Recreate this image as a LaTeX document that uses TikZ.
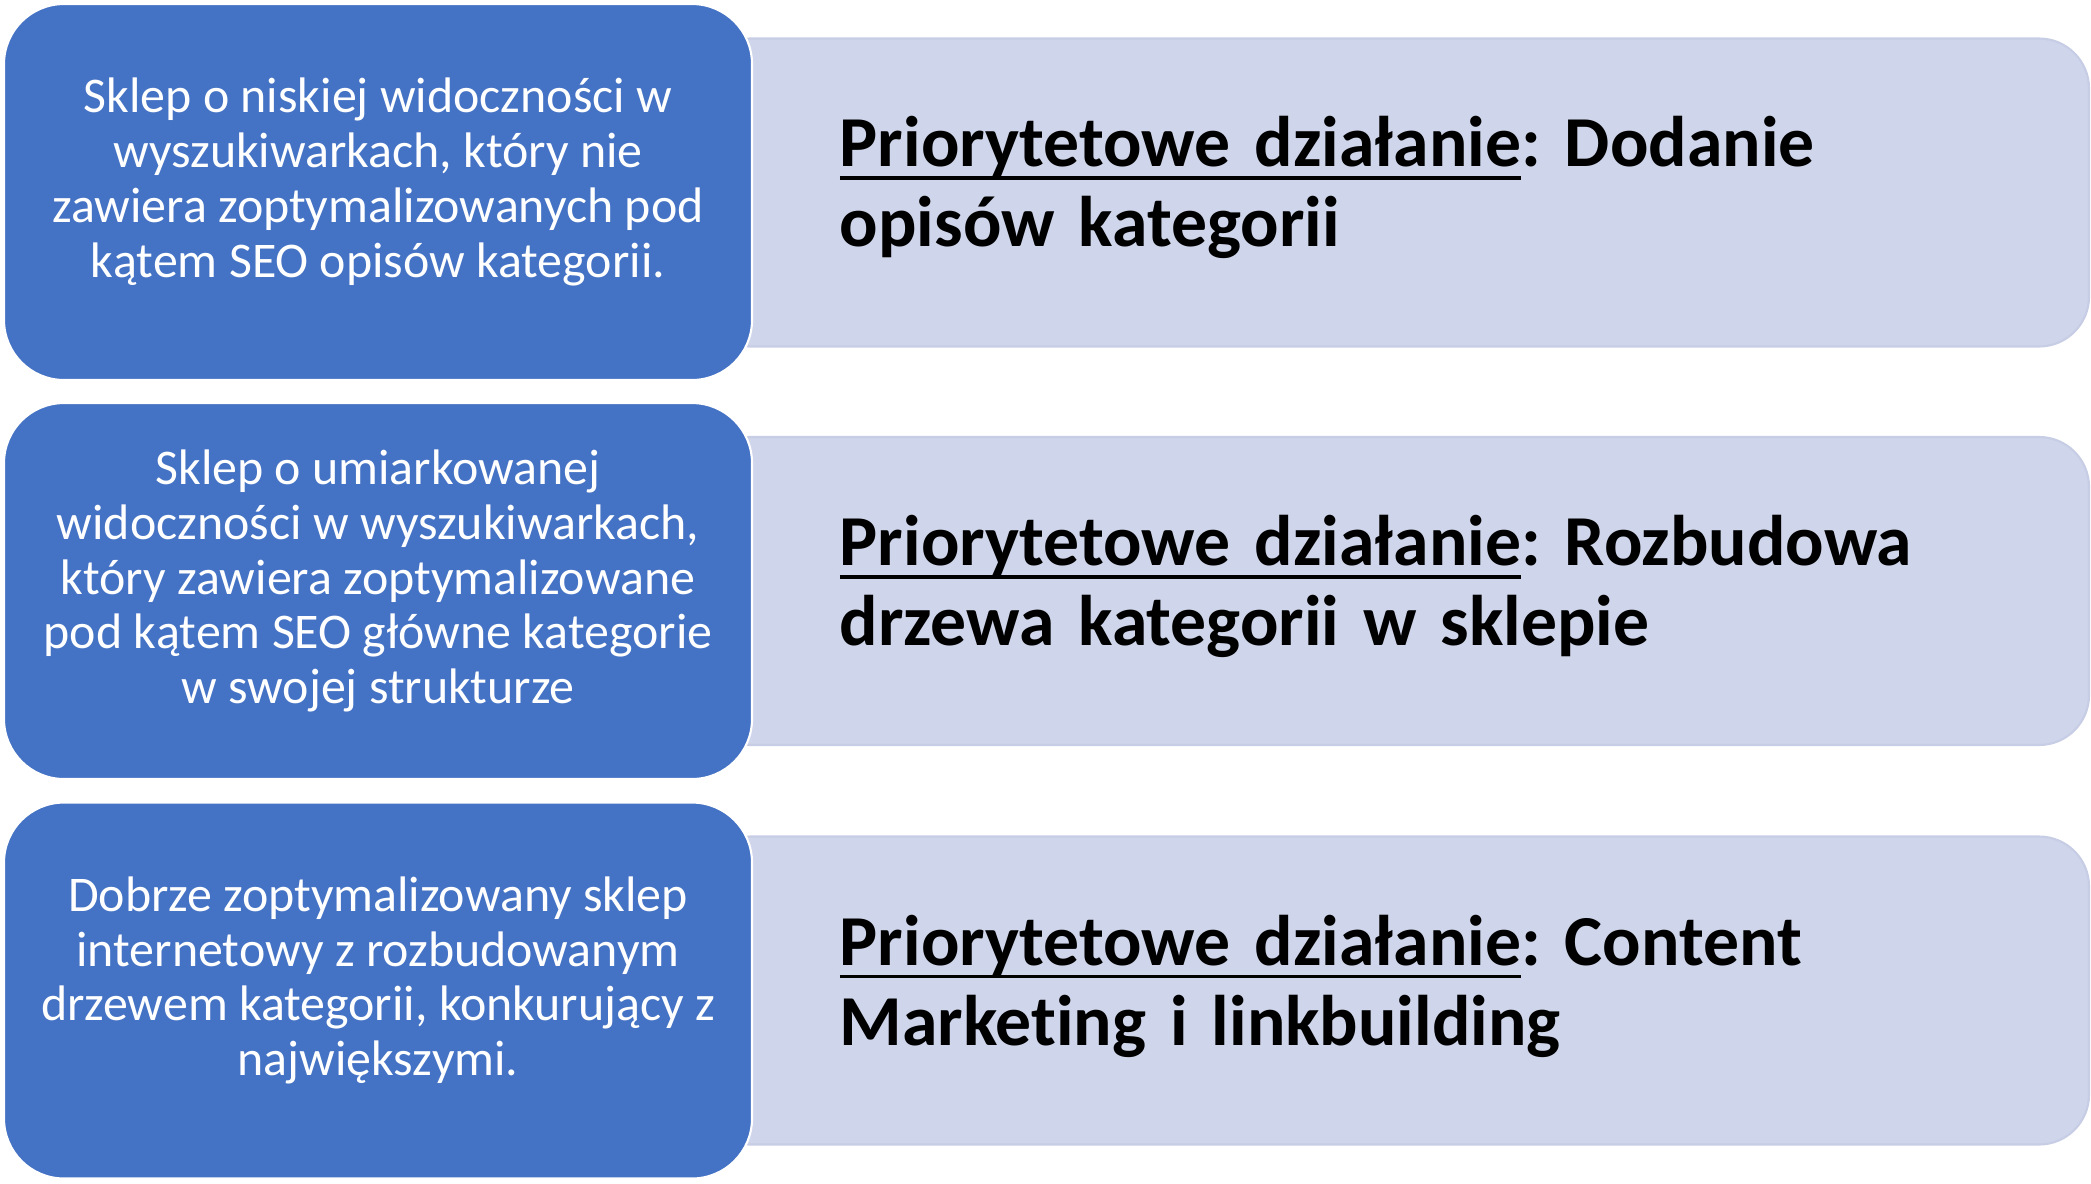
\documentclass[tikz,border=0pt]{standalone}
\usepackage{fontspec}
\setmainfont{Carlito}[Ligatures=NoCommon]
\usepackage{tikz}
\usetikzlibrary{positioning}
\frenchspacing

\definecolor{niebieski}{HTML}{4472C4}
\definecolor{jasny}{HTML}{CFD5EA}
\definecolor{jasnyobrys}{HTML}{C6CDE5}

% podkreslenie przechodzace przez spacje
\newcommand{\podkreslone}[1]{\setbox0\hbox{#1}\rlap{\rule[-3.8pt]{\wd0}{1.1pt}}\box0}
\newcommand{\priorytet}{\podkreslone{Priorytetowe działanie}:}

\tikzset{
	stan/.style={draw=white, line width=0.6pt, fill=niebieski, rounded corners=0.6cm,
		minimum width=7.48cm, minimum height=3.76cm},
	dzialanie/.style={draw=jasnyobrys, line width=0.6pt, fill=jasny, rounded corners=0.5cm,
		minimum width=13.89cm, minimum height=3.08cm},
	opisstanu/.style={text=white, align=center, inner sep=0pt,
		font=\fontsize{14.2}{15.6}\selectfont},
	opisdzialania/.style={text=black, align=left, inner sep=0pt, text width=11.5cm,
		font=\fontsize{20.4}{22.8}\selectfont\bfseries}
}

\begin{document}
\begin{tikzpicture}
	\useasboundingbox (0,0) rectangle (20.91,-11.83);
	% jasne pola z dzialaniami
	\node[dzialanie] (d1) at (13.945,-1.925) {};
	\node[dzialanie] (d2) at (13.945,-5.91) {};
	\node[dzialanie] (d3) at (13.945,-9.905) {};
	% niebieskie pola ze stanem sklepu
	\node[stan] (s1) at (3.78,-1.92) {};
	\node[stan] (s2) at (3.78,-5.91) {};
	\node[stan] (s3) at (3.78,-9.905) {};
	\node[opisstanu] (t1) at ([yshift=0.10cm]s1.center) {Sklep o niskiej widoczności w\\wyszukiwarkach, który nie\\zawiera zoptymalizowanych pod\\kątem SEO opisów kategorii.};
	\node[opisstanu] (t2) at ([yshift=0.10cm]s2.center) {Sklep o umiarkowanej\\widoczności w wyszukiwarkach,\\który zawiera zoptymalizowane\\pod kątem SEO główne kategorie\\w swojej strukturze};
	\node[opisstanu] (t3) at ([yshift=0.10cm]s3.center) {Dobrze zoptymalizowany sklep\\internetowy z rozbudowanym\\drzewem kategorii, konkurujący z\\największymi.};
	\node[opisdzialania, right=0.86cm of s1.east, yshift=0.045cm] (p1) {\priorytet{} Dodanie\\opisów kategorii};
	\node[opisdzialania, right=0.86cm of s2.east, yshift=0.045cm] (p2) {\priorytet{} Rozbudowa\\drzewa kategorii w sklepie};
	\node[opisdzialania, right=0.86cm of s3.east, yshift=0.045cm] (p3) {\priorytet{} Content\\Marketing i linkbuilding};
\end{tikzpicture}
\end{document}
